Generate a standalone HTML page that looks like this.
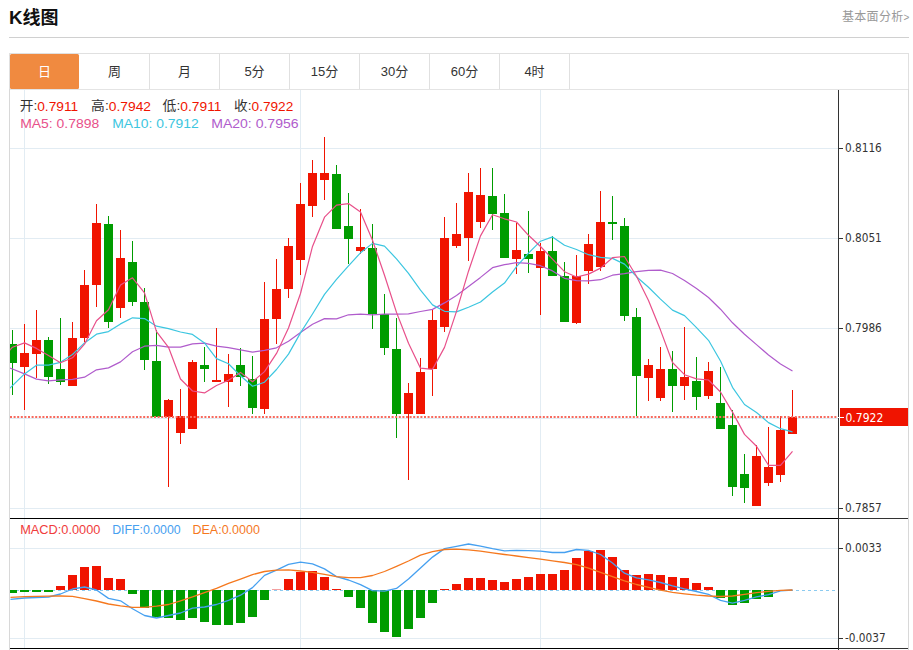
<!DOCTYPE html>
<html><head><meta charset="utf-8"><title>K线图</title>
<style>
*{margin:0;padding:0;box-sizing:border-box}
html,body{width:913px;height:650px;overflow:hidden;background:#fff}
body{position:relative;font-family:"Liberation Sans","Noto Sans CJK SC",sans-serif;color:#333}
.t{position:absolute;white-space:nowrap}
#title{left:9px;top:7px;font-size:18px;font-weight:bold;color:#111;line-height:22px}
#more{left:842px;top:10px;font-size:12px;color:#999;line-height:14px;letter-spacing:0.3px}
#hr{position:absolute;left:9px;top:37px;width:900px;height:1px;background:#d0d0d0}
#tabs{position:absolute;left:9px;top:53px;width:900px;height:37px;border:1px solid #e0e0e0;border-bottom:1px solid #e4e4e4}
.tab{position:absolute;top:0;height:35px;width:70px;border-right:1px solid #e0e0e0;text-align:center;line-height:35px;font-size:13px;color:#333}
.tab.on{background:#f08a40;color:#fff;border-right:none;border-radius:1.5px;width:69px}
#frame{position:absolute;left:9px;top:89px;width:900px;height:561px;border-left:1px solid #d8d8d8;border-right:1px solid #d8d8d8}
.info{position:absolute;font-size:13px;line-height:15px;white-space:nowrap;letter-spacing:0.4px}
.k{color:#333} .r{color:#f01400}
</style></head><body>
<div class="t" id="title"><span style="font-size:18.8px">K</span>线图</div>
<div class="t" id="more">基本面分析<span style="font-size:10px">&gt;</span></div>
<div id="hr"></div>
<div id="tabs">
<div class="tab on" style="left:0">日</div>
<div class="tab" style="left:70px">周</div>
<div class="tab" style="left:140px">月</div>
<div class="tab" style="left:210px">5分</div>
<div class="tab" style="left:280px">15分</div>
<div class="tab" style="left:350px">30分</div>
<div class="tab" style="left:420px">60分</div>
<div class="tab" style="left:490px">4时</div>
</div>
<div id="frame"></div>
<svg width="913" height="650" viewBox="0 0 913 650" style="position:absolute;left:0;top:0"><defs><clipPath id="cp"><rect x="10" y="90" width="828" height="428"/></clipPath><clipPath id="cm"><rect x="10" y="519" width="828" height="129"/></clipPath></defs><g stroke="#e2ecf3" stroke-width="1" shape-rendering="crispEdges"><line x1="10" y1="148.5" x2="838" y2="148.5"/><line x1="10" y1="238.5" x2="838" y2="238.5"/><line x1="10" y1="328.5" x2="838" y2="328.5"/><line x1="10" y1="418.5" x2="838" y2="418.5"/><line x1="10" y1="508.5" x2="838" y2="508.5"/><line x1="10" y1="548.5" x2="838" y2="548.5"/><line x1="10" y1="638.5" x2="838" y2="638.5"/><line x1="24.5" y1="90" x2="24.5" y2="648"/><line x1="300.5" y1="90" x2="300.5" y2="648"/><line x1="540.5" y1="90" x2="540.5" y2="648"/></g><g clip-path="url(#cp)" shape-rendering="crispEdges"><rect x="12" y="330" width="1" height="65" fill="#009c00"/><rect x="8" y="344" width="9" height="19" fill="#009c00"/><rect x="24" y="324" width="1" height="86" fill="#f01400"/><rect x="20" y="353" width="9" height="14" fill="#f01400"/><rect x="36" y="310" width="1" height="68" fill="#f01400"/><rect x="32" y="340" width="9" height="14" fill="#f01400"/><rect x="48" y="337" width="1" height="47" fill="#009c00"/><rect x="44" y="340" width="9" height="37" fill="#009c00"/><rect x="60" y="318" width="1" height="67" fill="#009c00"/><rect x="56" y="369" width="9" height="13" fill="#009c00"/><rect x="72" y="322" width="1" height="64" fill="#f01400"/><rect x="68" y="338" width="9" height="48" fill="#f01400"/><rect x="84" y="270" width="1" height="72" fill="#f01400"/><rect x="80" y="285" width="9" height="53" fill="#f01400"/><rect x="96" y="204" width="1" height="103" fill="#f01400"/><rect x="92" y="223" width="9" height="62" fill="#f01400"/><rect x="108" y="216" width="1" height="112" fill="#009c00"/><rect x="104" y="224" width="9" height="98" fill="#009c00"/><rect x="120" y="230" width="1" height="88" fill="#f01400"/><rect x="116" y="258" width="9" height="50" fill="#f01400"/><rect x="132" y="241" width="1" height="65" fill="#009c00"/><rect x="128" y="262" width="9" height="40" fill="#009c00"/><rect x="144" y="288" width="1" height="82" fill="#009c00"/><rect x="140" y="302" width="9" height="58" fill="#009c00"/><rect x="156" y="330" width="1" height="87" fill="#009c00"/><rect x="152" y="361" width="9" height="56" fill="#009c00"/><rect x="168" y="399" width="1" height="88" fill="#f01400"/><rect x="164" y="400" width="9" height="17" fill="#f01400"/><rect x="180" y="389" width="1" height="55" fill="#f01400"/><rect x="176" y="416" width="9" height="17" fill="#f01400"/><rect x="192" y="360" width="1" height="69" fill="#f01400"/><rect x="188" y="362" width="9" height="67" fill="#f01400"/><rect x="204" y="347" width="1" height="35" fill="#009c00"/><rect x="200" y="365" width="9" height="4" fill="#009c00"/><rect x="216" y="328" width="1" height="54" fill="#f01400"/><rect x="212" y="380" width="9" height="2" fill="#f01400"/><rect x="228" y="354" width="1" height="53" fill="#f01400"/><rect x="224" y="374" width="9" height="8" fill="#f01400"/><rect x="240" y="348" width="1" height="38" fill="#009c00"/><rect x="236" y="365" width="9" height="12" fill="#009c00"/><rect x="252" y="356" width="1" height="58" fill="#009c00"/><rect x="248" y="379" width="9" height="29" fill="#009c00"/><rect x="264" y="282" width="1" height="132" fill="#f01400"/><rect x="260" y="319" width="9" height="90" fill="#f01400"/><rect x="276" y="259" width="1" height="85" fill="#f01400"/><rect x="272" y="289" width="9" height="30" fill="#f01400"/><rect x="288" y="238" width="1" height="60" fill="#f01400"/><rect x="284" y="246" width="9" height="43" fill="#f01400"/><rect x="300" y="183" width="1" height="92" fill="#f01400"/><rect x="296" y="204" width="9" height="56" fill="#f01400"/><rect x="312" y="160" width="1" height="57" fill="#f01400"/><rect x="308" y="173" width="9" height="33" fill="#f01400"/><rect x="324" y="137" width="1" height="63" fill="#f01400"/><rect x="320" y="173" width="9" height="7" fill="#f01400"/><rect x="336" y="165" width="1" height="64" fill="#009c00"/><rect x="332" y="174" width="9" height="55" fill="#009c00"/><rect x="348" y="193" width="1" height="71" fill="#009c00"/><rect x="344" y="226" width="9" height="13" fill="#009c00"/><rect x="360" y="209" width="1" height="45" fill="#f01400"/><rect x="356" y="247" width="9" height="4" fill="#f01400"/><rect x="372" y="224" width="1" height="105" fill="#009c00"/><rect x="368" y="248" width="9" height="66" fill="#009c00"/><rect x="384" y="294" width="1" height="61" fill="#009c00"/><rect x="380" y="314" width="9" height="34" fill="#009c00"/><rect x="396" y="318" width="1" height="120" fill="#009c00"/><rect x="392" y="349" width="9" height="65" fill="#009c00"/><rect x="408" y="383" width="1" height="97" fill="#f01400"/><rect x="404" y="393" width="9" height="21" fill="#f01400"/><rect x="420" y="358" width="1" height="56" fill="#f01400"/><rect x="416" y="372" width="9" height="42" fill="#f01400"/><rect x="432" y="309" width="1" height="87" fill="#f01400"/><rect x="428" y="320" width="9" height="49" fill="#f01400"/><rect x="444" y="217" width="1" height="115" fill="#f01400"/><rect x="440" y="238" width="9" height="89" fill="#f01400"/><rect x="456" y="203" width="1" height="45" fill="#f01400"/><rect x="452" y="234" width="9" height="12" fill="#f01400"/><rect x="468" y="173" width="1" height="88" fill="#f01400"/><rect x="464" y="192" width="9" height="46" fill="#f01400"/><rect x="480" y="168" width="1" height="60" fill="#f01400"/><rect x="476" y="195" width="9" height="27" fill="#f01400"/><rect x="492" y="168" width="1" height="62" fill="#009c00"/><rect x="488" y="196" width="9" height="18" fill="#009c00"/><rect x="504" y="194" width="1" height="64" fill="#009c00"/><rect x="500" y="213" width="9" height="45" fill="#009c00"/><rect x="516" y="223" width="1" height="51" fill="#f01400"/><rect x="512" y="250" width="9" height="9" fill="#f01400"/><rect x="528" y="211" width="1" height="62" fill="#009c00"/><rect x="524" y="254" width="9" height="5" fill="#009c00"/><rect x="540" y="243" width="1" height="72" fill="#f01400"/><rect x="536" y="251" width="9" height="17" fill="#f01400"/><rect x="552" y="236" width="1" height="40" fill="#009c00"/><rect x="548" y="251" width="9" height="25" fill="#009c00"/><rect x="564" y="262" width="1" height="60" fill="#009c00"/><rect x="560" y="276" width="9" height="46" fill="#009c00"/><rect x="576" y="255" width="1" height="69" fill="#f01400"/><rect x="572" y="276" width="9" height="47" fill="#f01400"/><rect x="588" y="234" width="1" height="50" fill="#f01400"/><rect x="584" y="244" width="9" height="27" fill="#f01400"/><rect x="600" y="191" width="1" height="80" fill="#f01400"/><rect x="596" y="222" width="9" height="45" fill="#f01400"/><rect x="612" y="196" width="1" height="44" fill="#009c00"/><rect x="608" y="222" width="9" height="2" fill="#009c00"/><rect x="624" y="218" width="1" height="103" fill="#009c00"/><rect x="620" y="226" width="9" height="90" fill="#009c00"/><rect x="636" y="308" width="1" height="108" fill="#009c00"/><rect x="632" y="317" width="9" height="59" fill="#009c00"/><rect x="648" y="359" width="1" height="42" fill="#f01400"/><rect x="644" y="365" width="9" height="13" fill="#f01400"/><rect x="660" y="347" width="1" height="54" fill="#f01400"/><rect x="656" y="369" width="9" height="29" fill="#f01400"/><rect x="672" y="351" width="1" height="61" fill="#009c00"/><rect x="668" y="369" width="9" height="17" fill="#009c00"/><rect x="684" y="327" width="1" height="73" fill="#f01400"/><rect x="680" y="377" width="9" height="9" fill="#f01400"/><rect x="696" y="357" width="1" height="53" fill="#009c00"/><rect x="692" y="381" width="9" height="16" fill="#009c00"/><rect x="708" y="362" width="1" height="37" fill="#f01400"/><rect x="704" y="371" width="9" height="25" fill="#f01400"/><rect x="720" y="367" width="1" height="62" fill="#009c00"/><rect x="716" y="403" width="9" height="26" fill="#009c00"/><rect x="732" y="410" width="1" height="86" fill="#009c00"/><rect x="728" y="425" width="9" height="62" fill="#009c00"/><rect x="744" y="454" width="1" height="49" fill="#009c00"/><rect x="740" y="474" width="9" height="14" fill="#009c00"/><rect x="756" y="445" width="1" height="61" fill="#f01400"/><rect x="752" y="456" width="9" height="50" fill="#f01400"/><rect x="768" y="427" width="1" height="59" fill="#f01400"/><rect x="764" y="467" width="9" height="16" fill="#f01400"/><rect x="780" y="416" width="1" height="66" fill="#f01400"/><rect x="776" y="430" width="9" height="45" fill="#f01400"/><rect x="792" y="390" width="1" height="44" fill="#f01400"/><rect x="788" y="417" width="9" height="17" fill="#f01400"/></g><g clip-path="url(#cp)"><polyline points="0.5,364.5 12.5,369.0 24.5,373.9 36.5,379.1 48.5,380.9 60.5,379.8 72.5,379.4 84.5,377.2 96.5,369.8 108.5,367.9 120.5,361.9 132.5,351.7 144.5,346.2 156.5,345.3 168.5,347.1 180.5,347.1 192.5,343.8 204.5,343.1 216.5,346.2 228.5,347.7 240.5,349.8 252.5,352.1 264.5,350.4 276.5,347.8 288.5,341.3 300.5,332.5 312.5,324.2 324.5,318.6 336.5,318.9 348.5,314.8 360.5,314.2 372.5,314.9 384.5,314.2 396.5,314.1 408.5,313.8 420.5,311.5 432.5,309.4 444.5,302.9 456.5,295.6 468.5,286.5 480.5,277.4 492.5,267.7 504.5,264.7 516.5,262.7 528.5,263.3 540.5,265.7 552.5,270.9 564.5,278.3 576.5,280.7 588.5,280.9 600.5,279.7 612.5,275.2 624.5,273.6 636.5,271.7 648.5,270.3 660.5,270.1 672.5,273.5 684.5,280.4 696.5,288.6 708.5,297.5 720.5,309.2 732.5,322.8 744.5,334.3 756.5,344.6 768.5,355.0 780.5,363.9 792.5,370.9" fill="none" stroke="#b05ccc" stroke-width="1.2" stroke-linejoin="round"/><polyline points="0.5,396.9 12.5,385.6 24.5,373.9 36.5,365.2 48.5,365.2 60.5,362.3 72.5,354.5 84.5,342.9 96.5,334.2 108.5,331.6 120.5,323.9 132.5,317.8 144.5,318.6 156.5,326.2 168.5,328.6 180.5,332.0 192.5,334.4 204.5,342.9 216.5,358.6 228.5,363.8 240.5,375.7 252.5,386.3 264.5,382.2 276.5,369.5 288.5,354.1 300.5,332.9 312.5,314.0 324.5,294.4 336.5,279.3 348.5,265.8 360.5,252.8 372.5,243.4 384.5,246.2 396.5,258.8 408.5,273.4 420.5,290.2 432.5,304.9 444.5,311.3 456.5,311.9 468.5,307.2 480.5,302.0 492.5,292.0 504.5,283.1 516.5,266.7 528.5,253.2 540.5,241.2 552.5,236.9 564.5,245.3 576.5,249.5 588.5,254.7 600.5,257.3 612.5,258.4 624.5,264.1 636.5,276.7 648.5,287.3 660.5,299.1 672.5,310.1 684.5,315.6 696.5,327.6 708.5,340.3 720.5,361.0 732.5,387.3 744.5,404.5 756.5,412.5 768.5,422.6 780.5,428.7 792.5,431.8" fill="none" stroke="#3cc6e0" stroke-width="1.2" stroke-linejoin="round"/><polyline points="0.5,360.2 12.5,347.2 24.5,342.9 36.5,348.4 48.5,355.4 60.5,362.8 72.5,357.8 84.5,344.2 96.5,320.8 108.5,309.8 120.5,285.0 132.5,277.8 144.5,292.9 156.5,331.6 168.5,347.3 180.5,379.0 192.5,391.0 204.5,392.9 216.5,385.5 228.5,380.3 240.5,372.4 252.5,381.7 264.5,371.6 276.5,353.4 288.5,328.0 300.5,293.5 312.5,246.4 324.5,217.2 336.5,205.1 348.5,203.6 360.5,212.1 372.5,240.3 384.5,275.2 396.5,312.4 408.5,343.2 420.5,368.2 432.5,369.4 444.5,347.4 456.5,311.4 468.5,271.2 480.5,235.9 492.5,214.7 504.5,218.8 516.5,222.0 528.5,235.3 540.5,246.5 552.5,259.1 564.5,271.7 576.5,277.0 588.5,274.1 600.5,268.1 612.5,257.7 624.5,256.5 636.5,276.3 648.5,300.6 660.5,330.1 672.5,362.5 684.5,374.7 696.5,378.9 708.5,380.0 720.5,392.0 732.5,412.1 744.5,434.4 756.5,446.2 768.5,465.3 780.5,465.4 792.5,451.4" fill="none" stroke="#e8508a" stroke-width="1.2" stroke-linejoin="round"/></g><line x1="10" y1="417" x2="838" y2="417" stroke="#f76a5e" stroke-width="2" stroke-dasharray="2 1.6"/><line x1="10" y1="590.5" x2="838" y2="590.5" stroke="#8ccbf0" stroke-width="1" stroke-dasharray="3 3"/><g clip-path="url(#cm)" shape-rendering="crispEdges"><rect x="8" y="590" width="9" height="3" fill="#009c00"/><rect x="20" y="590" width="9" height="2" fill="#009c00"/><rect x="32" y="590" width="9" height="2" fill="#009c00"/><rect x="44" y="590" width="9" height="2" fill="#009c00"/><rect x="56" y="586" width="9" height="4" fill="#f01400"/><rect x="68" y="575" width="9" height="15" fill="#f01400"/><rect x="80" y="567" width="9" height="23" fill="#f01400"/><rect x="92" y="566" width="9" height="24" fill="#f01400"/><rect x="104" y="578" width="9" height="12" fill="#f01400"/><rect x="116" y="579" width="9" height="11" fill="#f01400"/><rect x="128" y="590" width="9" height="4" fill="#009c00"/><rect x="140" y="590" width="9" height="18" fill="#009c00"/><rect x="152" y="590" width="9" height="27" fill="#009c00"/><rect x="164" y="590" width="9" height="28" fill="#009c00"/><rect x="176" y="590" width="9" height="30" fill="#009c00"/><rect x="188" y="590" width="9" height="28" fill="#009c00"/><rect x="200" y="590" width="9" height="32" fill="#009c00"/><rect x="212" y="590" width="9" height="35" fill="#009c00"/><rect x="224" y="590" width="9" height="35" fill="#009c00"/><rect x="236" y="590" width="9" height="33" fill="#009c00"/><rect x="248" y="590" width="9" height="27" fill="#009c00"/><rect x="260" y="590" width="9" height="10" fill="#009c00"/><rect x="284" y="579" width="9" height="11" fill="#f01400"/><rect x="296" y="572" width="9" height="18" fill="#f01400"/><rect x="308" y="571" width="9" height="19" fill="#f01400"/><rect x="320" y="577" width="9" height="13" fill="#f01400"/><rect x="332" y="589" width="9" height="1" fill="#f01400"/><rect x="344" y="590" width="9" height="7" fill="#009c00"/><rect x="356" y="590" width="9" height="18" fill="#009c00"/><rect x="368" y="590" width="9" height="33" fill="#009c00"/><rect x="380" y="590" width="9" height="42" fill="#009c00"/><rect x="392" y="590" width="9" height="47" fill="#009c00"/><rect x="404" y="590" width="9" height="39" fill="#009c00"/><rect x="416" y="590" width="9" height="28" fill="#009c00"/><rect x="428" y="590" width="9" height="13" fill="#009c00"/><rect x="440" y="589" width="9" height="1" fill="#f01400"/><rect x="452" y="584" width="9" height="6" fill="#f01400"/><rect x="464" y="578" width="9" height="12" fill="#f01400"/><rect x="476" y="578" width="9" height="12" fill="#f01400"/><rect x="488" y="580" width="9" height="10" fill="#f01400"/><rect x="500" y="582" width="9" height="8" fill="#f01400"/><rect x="512" y="579" width="9" height="11" fill="#f01400"/><rect x="524" y="577" width="9" height="13" fill="#f01400"/><rect x="536" y="574" width="9" height="16" fill="#f01400"/><rect x="548" y="574" width="9" height="16" fill="#f01400"/><rect x="560" y="570" width="9" height="20" fill="#f01400"/><rect x="572" y="558" width="9" height="32" fill="#f01400"/><rect x="584" y="551" width="9" height="39" fill="#f01400"/><rect x="596" y="550" width="9" height="40" fill="#f01400"/><rect x="608" y="557" width="9" height="33" fill="#f01400"/><rect x="620" y="570" width="9" height="20" fill="#f01400"/><rect x="632" y="575" width="9" height="15" fill="#f01400"/><rect x="644" y="574" width="9" height="16" fill="#f01400"/><rect x="656" y="575" width="9" height="15" fill="#f01400"/><rect x="668" y="577" width="9" height="13" fill="#f01400"/><rect x="680" y="578" width="9" height="12" fill="#f01400"/><rect x="692" y="583" width="9" height="7" fill="#f01400"/><rect x="704" y="587" width="9" height="3" fill="#f01400"/><rect x="716" y="590" width="9" height="8" fill="#009c00"/><rect x="728" y="590" width="9" height="15" fill="#009c00"/><rect x="740" y="590" width="9" height="13" fill="#009c00"/><rect x="752" y="590" width="9" height="9" fill="#009c00"/><rect x="764" y="590" width="9" height="7" fill="#009c00"/><rect x="776" y="590" width="9" height="1" fill="#009c00"/><rect x="272" y="589" width="9" height="1" fill="#f4a0a0"/></g><g clip-path="url(#cm)"><polyline points="10.5,599.4 24.5,598.0 36.5,597.5 48.5,597.0 60.5,594.0 72.5,589.0 84.5,587.0 96.5,590.0 108.5,598.4 120.5,600.8 132.5,608.8 144.5,615.5 156.5,618.0 168.5,615.5 180.5,613.0 192.5,608.2 204.5,607.0 216.5,604.5 228.5,600.3 240.5,595.2 252.5,587.6 264.5,575.4 276.5,570.1 288.5,564.4 300.5,562.2 312.5,563.9 324.5,568.9 336.5,576.6 348.5,580.0 360.5,584.7 372.5,590.6 384.5,591.2 396.5,588.4 408.5,579.1 420.5,568.1 432.5,557.1 444.5,548.6 456.5,546.4 468.5,544.0 480.5,546.1 492.5,548.6 504.5,550.8 516.5,550.4 528.5,550.7 540.5,551.2 552.5,552.5 564.5,552.5 576.5,549.5 588.5,550.3 600.5,554.5 612.5,563.0 624.5,573.2 636.5,577.9 648.5,579.9 660.5,582.5 672.5,585.9 684.5,588.9 696.5,591.5 708.5,594.3 720.5,600.3 732.5,603.1 744.5,600.3 756.5,596.9 768.5,594.7 780.5,590.9 792.5,590.0" fill="none" stroke="#46a0f0" stroke-width="1.3" stroke-linejoin="round"/><polyline points="10.5,597.4 24.5,596.6 36.5,596.4 48.5,596.2 60.5,596.0 72.5,596.4 84.5,598.6 96.5,601.0 108.5,604.0 120.5,605.9 132.5,607.3 144.5,607.4 156.5,606.2 168.5,604.5 180.5,600.8 192.5,596.9 204.5,592.6 216.5,588.4 228.5,583.3 240.5,579.1 252.5,574.6 264.5,571.5 276.5,570.1 288.5,569.8 300.5,571.0 312.5,572.3 324.5,574.4 336.5,576.6 348.5,577.7 360.5,577.7 372.5,575.5 384.5,571.5 396.5,566.4 408.5,561.0 420.5,555.2 432.5,551.7 444.5,549.5 456.5,549.1 468.5,549.8 480.5,551.2 492.5,552.9 504.5,554.5 516.5,556.0 528.5,557.6 540.5,559.1 552.5,560.8 564.5,562.5 576.5,564.7 588.5,568.1 600.5,572.3 612.5,576.6 624.5,580.8 636.5,584.5 648.5,587.4 660.5,590.1 672.5,592.3 684.5,593.8 696.5,595.2 708.5,596.0 720.5,596.5 732.5,596.0 744.5,594.3 756.5,592.6 768.5,591.3 780.5,590.3 792.5,590.0" fill="none" stroke="#f5781e" stroke-width="1.3" stroke-linejoin="round"/></g><g stroke="#333" stroke-width="1" shape-rendering="crispEdges"><line x1="838" y1="518.5" x2="908" y2="518.5"/><line x1="838" y1="648.5" x2="908" y2="648.5"/><line x1="838.5" y1="90" x2="838.5" y2="650"/></g><g stroke="#000" stroke-width="1" shape-rendering="crispEdges"><line x1="10" y1="518.5" x2="838" y2="518.5"/><line x1="10" y1="648.5" x2="838" y2="648.5"/></g><g stroke="#333" stroke-width="1" shape-rendering="crispEdges"><line x1="838" y1="148.5" x2="843" y2="148.5"/><line x1="838" y1="238.5" x2="843" y2="238.5"/><line x1="838" y1="328.5" x2="843" y2="328.5"/><line x1="838" y1="508.5" x2="843" y2="508.5"/><line x1="838" y1="548.5" x2="843" y2="548.5"/><line x1="838" y1="638.5" x2="843" y2="638.5"/></g><g font-family="DejaVu Sans Condensed, DejaVu Sans, sans-serif" font-size="11.7" fill="#333"><text x="845" y="152.2">0.8116</text><text x="845" y="242.2">0.8051</text><text x="845" y="332.2">0.7986</text><text x="845" y="512.2">0.7857</text><text x="845" y="552.2">0.0033</text><text x="845" y="642.2">-0.0037</text></g><rect x="840" y="408" width="68" height="18" fill="#f01400"/><line x1="838" y1="417.5" x2="844" y2="417.5" stroke="#fff" stroke-width="1"/><text x="845.5" y="421.5" font-family="DejaVu Sans Condensed, DejaVu Sans, sans-serif" font-size="12" fill="#fff">0.7922</text><g font-family='"Liberation Sans", "Noto Sans CJK SC", sans-serif'><text x="19.7" y="110.6" font-size="13" textLength="58.5" lengthAdjust="spacingAndGlyphs"><tspan fill="#333" dy="-1">开:</tspan><tspan fill="#f01400" dy="1">0.7911</tspan></text><text x="91.1" y="110.6" font-size="13" textLength="59.9" lengthAdjust="spacingAndGlyphs"><tspan fill="#333" dy="-1">高:</tspan><tspan fill="#f01400" dy="1">0.7942</tspan></text><text x="162.6" y="110.6" font-size="13" textLength="58.9" lengthAdjust="spacingAndGlyphs"><tspan fill="#333" dy="-1">低:</tspan><tspan fill="#f01400" dy="1">0.7911</tspan></text><text x="234.1" y="110.6" font-size="13" textLength="59.2" lengthAdjust="spacingAndGlyphs"><tspan fill="#333" dy="-1">收:</tspan><tspan fill="#f01400" dy="1">0.7922</tspan></text><text x="20.2" y="128.4" font-size="13" textLength="79.0" lengthAdjust="spacingAndGlyphs"><tspan fill="#e8508a">MA5: 0.7898</tspan></text><text x="112.2" y="128.4" font-size="13" textLength="86.5" lengthAdjust="spacingAndGlyphs"><tspan fill="#3cc6e0">MA10: 0.7912</tspan></text><text x="211.2" y="128.4" font-size="13" textLength="87.4" lengthAdjust="spacingAndGlyphs"><tspan fill="#b05ccc">MA20: 0.7956</tspan></text><text x="20.2" y="534.0" font-size="13" textLength="80.2" lengthAdjust="spacingAndGlyphs"><tspan fill="#f03c3c">MACD:0.0000</tspan></text><text x="112.2" y="534.0" font-size="13" textLength="68.5" lengthAdjust="spacingAndGlyphs"><tspan fill="#46a0f0">DIFF:0.0000</tspan></text><text x="192.5" y="534.0" font-size="13" textLength="67.4" lengthAdjust="spacingAndGlyphs"><tspan fill="#f5781e">DEA:0.0000</tspan></text></g></svg>
</body></html>
